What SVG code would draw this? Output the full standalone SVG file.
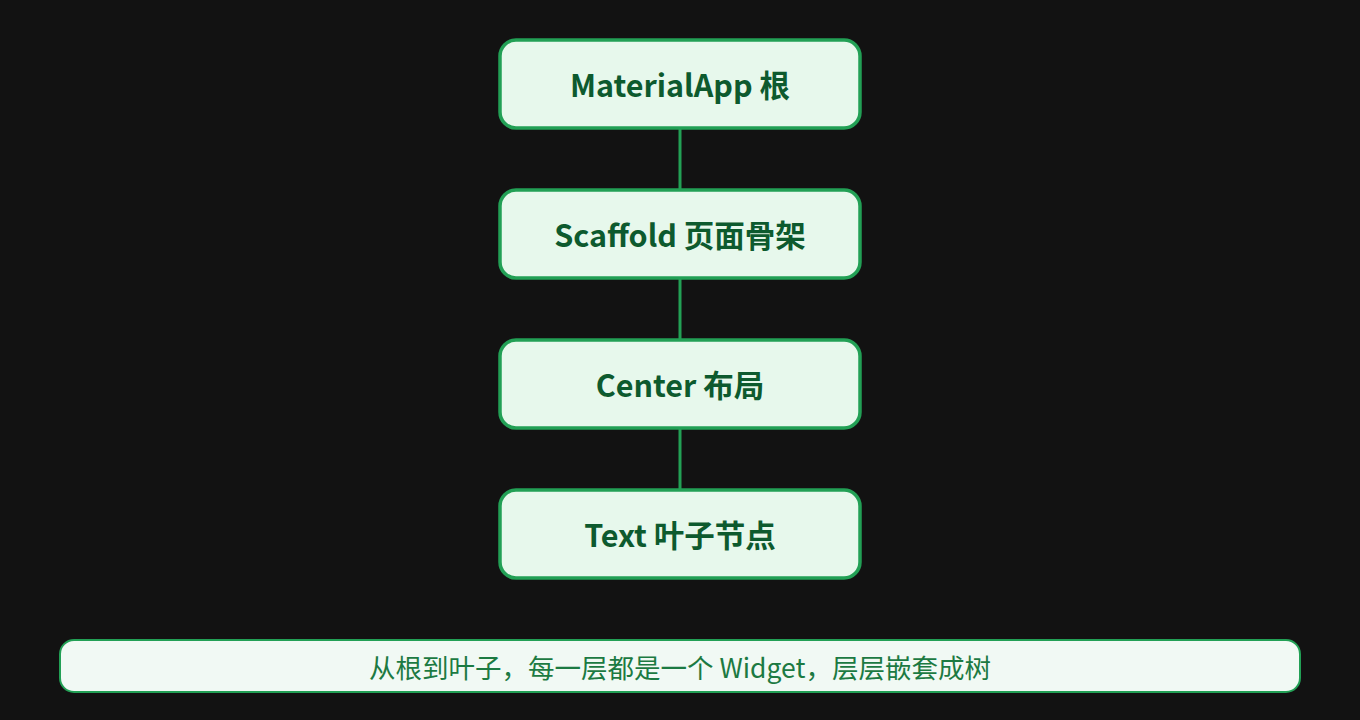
<svg xmlns="http://www.w3.org/2000/svg" width="1360" height="720" viewBox="0 0 1360 720">
<style>
.node rect{fill:#e7f8ec;stroke:#22a055;stroke-width:3.5}
.node text{font-family:"Noto Sans CJK SC","Noto Sans",sans-serif;font-size:30.5px;font-weight:700;fill:#0d5a2e;text-anchor:middle;dominant-baseline:central}
.conn line{stroke:#22a055;stroke-width:3}
.banner rect{fill:#f1f9f4;stroke:#22a055;stroke-width:2}
.banner text{font-family:"Noto Sans CJK SC","Noto Sans",sans-serif;font-size:26.5px;fill:#1c7a42;text-anchor:middle;dominant-baseline:central}
</style>
<rect width="1360" height="720" fill="#121212"/>
<g id="connectors" class="conn">
<line x1="680" y1="128" x2="680" y2="190"/>
<line x1="680" y1="278" x2="680" y2="340"/>
<line x1="680" y1="428" x2="680" y2="490"/>
</g>
<g id="materialapp" class="node"><rect x="500" y="40" width="360" height="88" rx="16"/><text x="680" y="84">MaterialApp 根</text></g>
<g id="scaffold" class="node"><rect x="500" y="190" width="360" height="88" rx="16"/><text x="680" y="234">Scaffold 页面骨架</text></g>
<g id="center" class="node"><rect x="500" y="340" width="360" height="88" rx="16"/><text x="680" y="384">Center 布局</text></g>
<g id="text" class="node"><rect x="500" y="490" width="360" height="88" rx="16"/><text x="680" y="534">Text 叶子节点</text></g>
<g id="banner" class="banner"><rect x="60" y="640" width="1240" height="52" rx="14"/><text x="680" y="666">从根到叶子，每一层都是一个 Widget，层层嵌套成树</text></g>
</svg>
